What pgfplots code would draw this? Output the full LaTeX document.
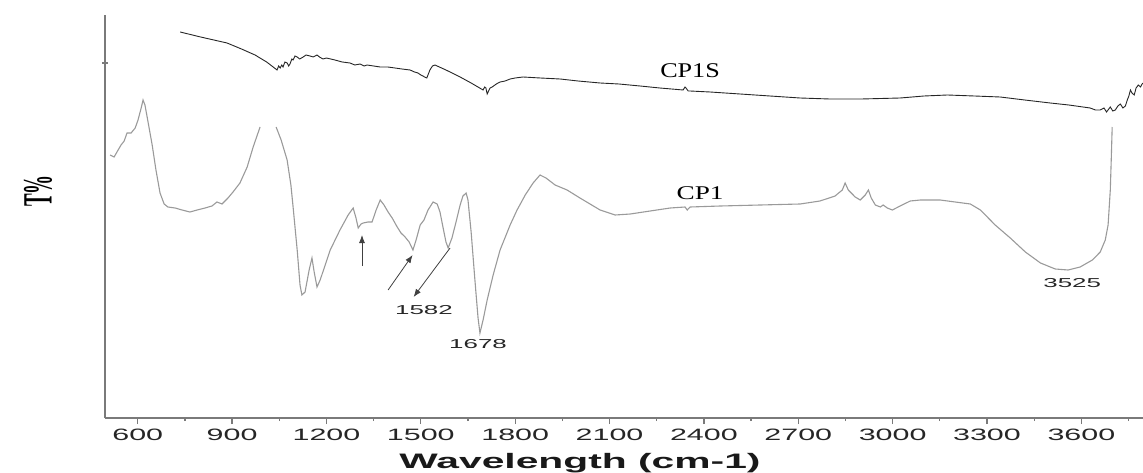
\documentclass[border=0pt]{standalone}
\usepackage{pgfplots}
\pgfplotsset{compat=1.18}
\usepackage{graphicx}
\usepackage{fontspec}
\setmainfont{Liberation Sans}
\newfontfamily\tickfont[FakeStretch=1.85]{Liberation Sans}
\newfontfamily\annfont[FakeStretch=2.0]{Liberation Sans}
\newfontfamily\labfont[FakeStretch=1.95]{Liberation Sans}
\newfontfamily\seriffont[FakeStretch=1.25]{Liberation Serif}
\newfontfamily\seriffontb[FakeStretch=1.4]{Liberation Serif}
\newfontfamily\plainserif{Liberation Serif}
\usetikzlibrary{arrows.meta}
\definecolor{axisgray}{HTML}{7A7A7A}
\definecolor{cpgray}{HTML}{9A9A9A}
\definecolor{cps}{HTML}{262626}
\begin{document}
\begin{tikzpicture}
\begin{axis}[name=ir,
  scale only axis,
  width=1038bp, height=403bp,
  xmin=496, xmax=3796, ymin=0, ymax=403,
  axis lines=left,
  axis line style={axisgray, line width=1.6bp, -},
  xtick={600,900,...,3600},
  minor xtick={750,1050,...,3750},
  ytick={355}, yticklabels={},
  tick style={axisgray, line width=1.3bp},
  major tick length=6bp, minor tick length=3bp,
  xtick align=outside, ytick align=center,
  /pgf/number format/assume math mode=true,
  /pgf/number format/1000 sep={},
  xticklabel style={font=\tickfont\fontsize{16.5}{16.5}\selectfont, text=black!85, yshift=-1bp},
  clip=false,
]
% CP1S
\addplot[cps, line width=0.9bp] coordinates {
(735,386) (800,381) (884,375) (930,369) (973,363) (1010,356) (1043,348)
(1048,352) (1053,350) (1058,353) (1062,351) (1068,356) (1075,355) (1080,352)
(1084,354) (1090,359) (1094,358) (1100,362) (1107,361) (1115,359) (1126,361)
(1135,363) (1148,362) (1158,361) (1170,363) (1178,361) (1189,359) (1200,360)
(1227,358) (1250,356) (1275,355) (1290,353) (1307,354) (1320,352) (1329,353)
(1350,352) (1371,351) (1395,351) (1418,350) (1440,349) (1466,348) (1480,346)
(1491,345) (1500,343) (1507,342) (1512,341) (1519,340) (1524,344) (1529,348)
(1537,352) (1545,353) (1580,348) (1625,341) (1660,335) (1698,328) (1703,331)
(1707,330) (1711,324) (1714,326) (1720,330) (1727,331) (1740,334) (1752,336)
(1768,337) (1784,339) (1800,340) (1825,341) (1880,340) (1943,339) (2000,337)
(2070,335) (2130,334) (2197,332) (2260,330) (2334,328) (2340,331) (2343,330)
(2350,327) (2356,327) (2420,326) (2515,324) (2610,322) (2706,320) (2800,319)
(2900,319) (3024,320) (3100,322) (3174,323) (3260,322) (3342,321) (3420,318)
(3501,315) (3560,313) (3628,310) (3645,308) (3660,308) (3672,310) (3680,306)
(3692,311) (3700,307) (3708,308) (3716,312) (3724,314) (3732,310) (3740,312)
(3746,318) (3751,322) (3756,328) (3761,325) (3768,323) (3774,330) (3781,333)
(3788,331) (3795,335)
};
% CP1, left of the gap
\addplot[cpgray, line width=1.1bp] coordinates {
(512,263) (525,261) (534,266) (547,273) (557,277) (566,285) (579,285)
(592,290) (601,298) (611,310) (617,318) (623,313) (630,301) (646,273)
(658,248) (671,225) (684,214) (696,211) (719,210) (741,208) (766,206)
(789,208) (814,210) (836,212) (852,216) (868,214) (887,220) (903,226)
(925,235) (948,251) (967,271) (989,291)
};
% CP1, right of the gap
\addplot[cpgray, line width=1.1bp] coordinates {
(1040,291) (1056,278) (1075,258) (1087,233) (1094,211) (1107,168) (1116,133)
(1122,123) (1132,126) (1145,148) (1154,160) (1161,146) (1170,131) (1180,138)
(1196,153) (1212,168) (1243,188) (1269,203) (1285,210) (1294,200) (1301,190)
(1310,194) (1317,195) (1332,196) (1345,196) (1358,208) (1371,218) (1383,213)
(1396,206) (1409,200) (1425,191) (1437,185) (1450,181) (1463,176) (1475,168)
(1485,178) (1498,193) (1510,198) (1523,208) (1539,216) (1552,214) (1561,206)
(1571,190) (1580,176) (1587,170) (1599,180) (1612,196) (1625,213) (1634,222)
(1644,225) (1650,218) (1660,186) (1672,138) (1682,100) (1688,85) (1698,98)
(1711,118) (1730,143) (1752,168) (1784,193) (1806,208) (1832,223) (1857,235)
(1879,243) (1898,240) (1927,233) (1965,228) (2006,220) (2070,208) (2118,203)
(2166,204) (2229,207) (2293,210) (2340,211) (2347,208) (2356,211) (2452,212)
(2579,213) (2706,214) (2769,217) (2817,222) (2840,228) (2849,235) (2859,228)
(2881,221) (2897,218) (2913,223) (2923,228) (2932,220) (2945,213) (2961,211)
(2970,213) (2983,210) (2999,208) (3024,212) (3056,217) (3088,218) (3151,218)
(3199,216) (3247,214) (3279,208) (3326,193) (3374,180) (3422,166) (3470,155)
(3517,149) (3558,148) (3596,151) (3635,158) (3660,166) (3676,178) (3685,193)
(3692,228) (3695,258) (3698,291)
};
% annotations
\draw[black!75, line width=0.8bp, -{Latex[length=8bp,width=6bp]}] (axis cs:1313,152) -- (axis cs:1313,183);
\draw[black!75, line width=0.8bp, -{Latex[length=8bp,width=6bp]}] (axis cs:1396,128) -- (axis cs:1474,163);
\draw[black!75, line width=0.8bp, -{Latex[length=8bp,width=6bp]}] (axis cs:1593,170) -- (axis cs:1477,121);
\node[font=\annfont\fontsize{13}{13}\selectfont, text=black!85] at (axis cs:1510,108) {1582};
\node[font=\annfont\fontsize{13}{13}\selectfont, text=black!85] at (axis cs:1682,74) {1678};
\node[font=\annfont\fontsize{13}{13}\selectfont, text=black!85] at (axis cs:3571,135) {3525};
\node[font=\seriffontb\fontsize{19.5}{19.5}\selectfont] at (axis cs:2388,225) {CP1};
\node[font=\seriffont\fontsize{21}{21}\selectfont] at (axis cs:2356,347) {CP1S};
\node at ([xshift=-67bp]rel axis cs:0,0.563) {\rotatebox{90}{\scalebox{1}[2.2]{\plainserif\bfseries\fontsize{19}{19}\selectfont T\%}}};
\node[font=\labfont\bfseries\fontsize{21}{21}\selectfont, text=black!90] at ([yshift=-45bp]rel axis cs:0.4576,0) {Wavelength (cm-1)};
\end{axis}
\pgfresetboundingbox
\path ([xshift=-105bp,yshift=-54bp]ir.south west) rectangle ([yshift=15bp]ir.north east);
\end{tikzpicture}
\end{document}
